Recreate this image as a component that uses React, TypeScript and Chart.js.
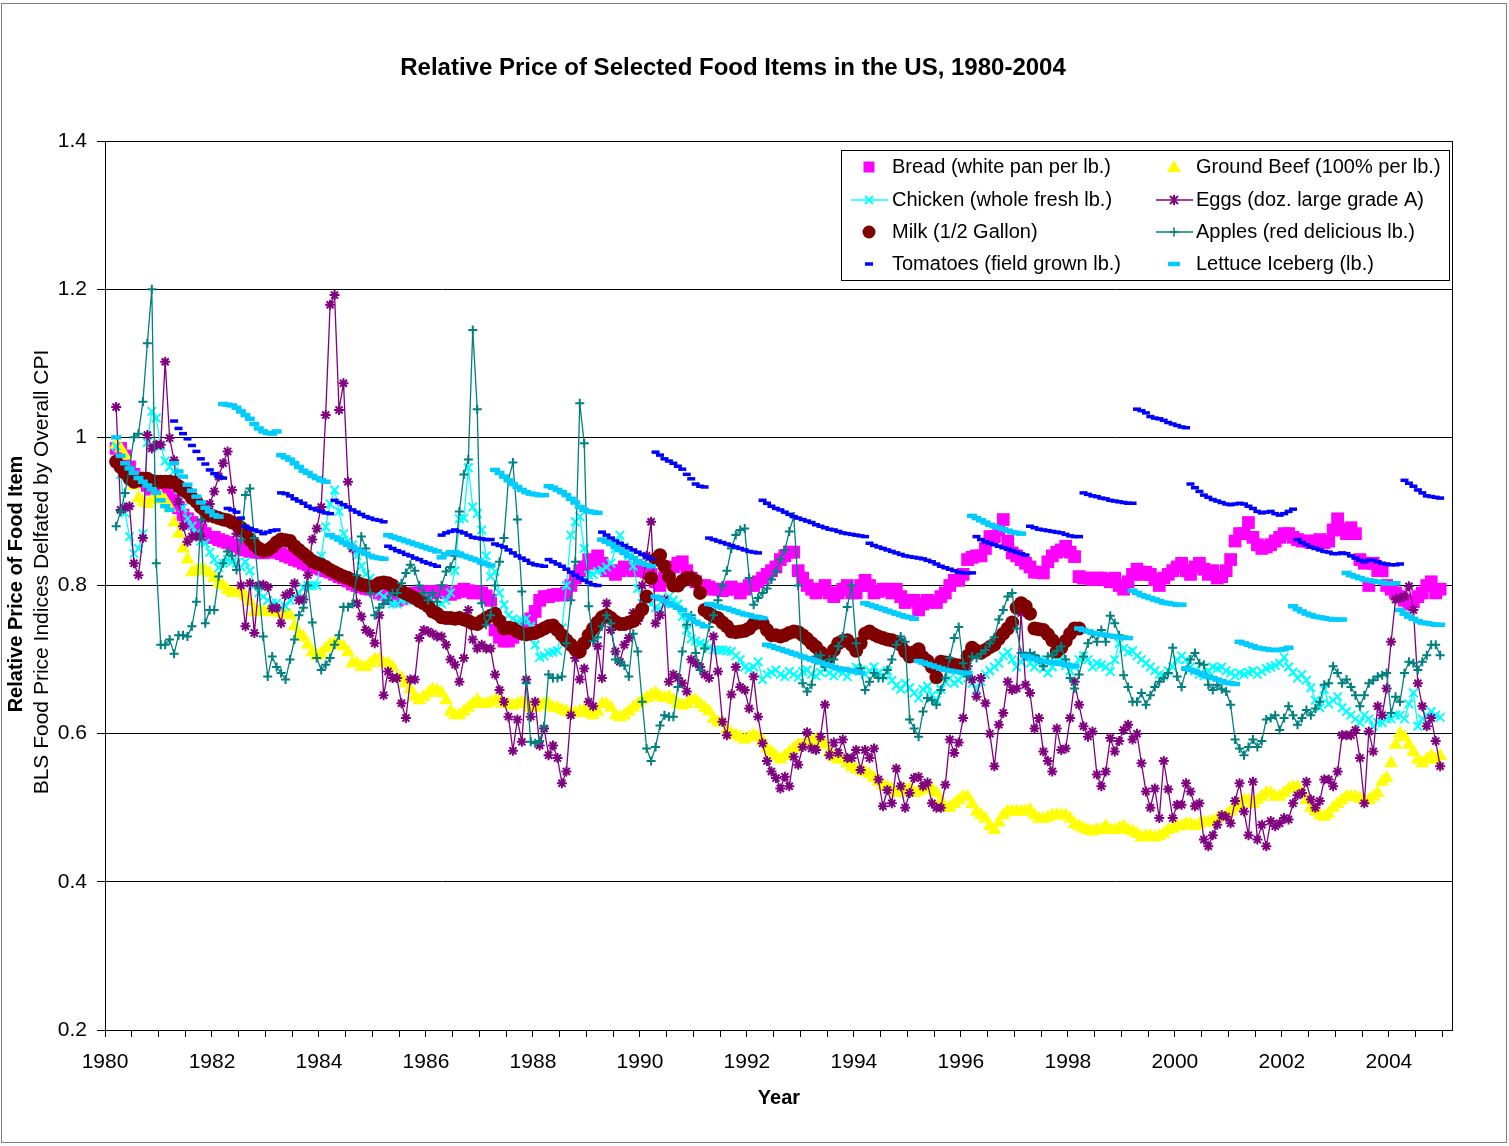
import React, { useEffect, useRef } from "react";
import { Chart, registerables } from "chart.js";

Chart.register(...registerables);

// ---- Data: monthly observations, the first one is March 1980 (plotted mid-month) ----
const FIRST_YEAR = 1980;
const FIRST_MONTH_INDEX = 2; // March
const TOMATOES_START = 13; // tomatoes start 13 months after the first observation

const breadValues = [
  0.985, 0.985, 0.975, 0.96, 0.95, 0.945, 0.94, 0.935, 0.93, 0.93,
  0.93, 0.925, 0.92, 0.915, 0.905, 0.895, 0.89, 0.885, 0.88, 0.875, 0.87, 0.865,
  0.865, 0.862, 0.86, 0.858, 0.855, 0.853, 0.85, 0.848, 0.846, 0.845, 0.845, 0.844,
  0.845, 0.846, 0.845, 0.843, 0.84, 0.838, 0.835, 0.833, 0.83, 0.828, 0.826, 0.824,
  0.822, 0.82, 0.818, 0.815, 0.812, 0.81, 0.806, 0.802, 0.8, 0.798, 0.796, 0.795,
  0.795, 0.79, 0.788, 0.785, 0.782, 0.78, 0.782, 0.785, 0.788, 0.79, 0.79, 0.792,
  0.792, 0.79, 0.792, 0.793, 0.79, 0.788, 0.79, 0.792, 0.795, 0.793, 0.79, 0.792,
  0.79, 0.786, 0.78, 0.74, 0.73, 0.725, 0.725, 0.73, 0.735, 0.74, 0.745, 0.755,
  0.765, 0.78, 0.785, 0.785, 0.787, 0.788, 0.787, 0.79, 0.8, 0.81, 0.82, 0.825,
  0.835, 0.83, 0.84, 0.83, 0.82, 0.82, 0.815, 0.82, 0.825, 0.822, 0.82, 0.82,
  0.82, 0.818, 0.815, 0.805, 0.8, 0.81, 0.815, 0.825, 0.83, 0.832, 0.82, 0.81,
  0.805, 0.8, 0.8, 0.798, 0.795, 0.795, 0.793, 0.795, 0.798, 0.795, 0.79, 0.795,
  0.8, 0.8, 0.805, 0.81, 0.815, 0.82, 0.825, 0.835, 0.84, 0.845, 0.845, 0.82,
  0.81, 0.8, 0.795, 0.79, 0.795, 0.8, 0.79, 0.785, 0.79, 0.795, 0.8, 0.79,
  0.79, 0.8, 0.807, 0.8, 0.79, 0.792, 0.795, 0.795, 0.79, 0.795, 0.785, 0.777,
  0.78, 0.78, 0.767, 0.775, 0.78, 0.778, 0.777, 0.785, 0.79, 0.8, 0.807, 0.807,
  0.815, 0.835, 0.838, 0.84, 0.84, 0.85, 0.866, 0.866, 0.875, 0.889, 0.86, 0.844,
  0.84, 0.835, 0.83, 0.825, 0.818, 0.818, 0.817, 0.832, 0.84, 0.845, 0.848, 0.853,
  0.845, 0.839, 0.812, 0.81, 0.81, 0.808, 0.81, 0.81, 0.808, 0.805, 0.81, 0.8,
  0.795, 0.805, 0.815, 0.822, 0.815, 0.818, 0.815, 0.808, 0.8, 0.81, 0.815, 0.82,
  0.825, 0.83, 0.82, 0.815, 0.825, 0.83, 0.822, 0.815, 0.82, 0.81, 0.812, 0.82,
  0.835, 0.86, 0.87, 0.87, 0.885, 0.865, 0.855, 0.85, 0.852, 0.855, 0.86, 0.865,
  0.87, 0.87, 0.865, 0.862, 0.86, 0.86, 0.858, 0.86, 0.862, 0.858, 0.86, 0.875,
  0.89, 0.875, 0.87, 0.878, 0.87, 0.835, 0.83, 0.8, 0.83, 0.82, 0.82, 0.8,
  0.795, 0.79, 0.785, 0.78, 0.775, 0.778, 0.785, 0.79, 0.8, 0.805, 0.79, 0.795,
];

const beefValues = [
  0.99, 0.985, 0.975, 0.955, 0.935, 0.918, 0.913, 0.91, 0.915, 0.918,
  0.92, 0.915, 0.905, 0.885, 0.87, 0.85, 0.835, 0.818, 0.82, 0.821,
  0.82, 0.817, 0.81, 0.803, 0.8, 0.794, 0.79, 0.79, 0.79, 0.785,
  0.778, 0.764, 0.765, 0.765, 0.765, 0.764, 0.765, 0.762, 0.765, 0.76,
  0.745, 0.735, 0.73, 0.72, 0.71, 0.705, 0.708, 0.715, 0.72, 0.722,
  0.72, 0.718, 0.71, 0.695, 0.695, 0.69, 0.69, 0.695, 0.7, 0.7,
  0.695, 0.695, 0.69, 0.675, 0.675, 0.668, 0.66, 0.65, 0.645, 0.65,
  0.655, 0.66, 0.658, 0.655, 0.645, 0.63, 0.625, 0.625, 0.63, 0.635,
  0.64, 0.645, 0.64, 0.64, 0.642, 0.645, 0.645, 0.64, 0.64, 0.638,
  0.64, 0.642, 0.64, 0.635, 0.635, 0.638, 0.64, 0.64, 0.635, 0.635,
  0.632, 0.63, 0.628, 0.628, 0.63, 0.632, 0.628, 0.625, 0.63, 0.64,
  0.64, 0.635, 0.625, 0.622, 0.625, 0.63, 0.635, 0.64, 0.645, 0.648,
  0.652, 0.655, 0.65, 0.648, 0.65, 0.645, 0.64, 0.638, 0.64, 0.645,
  0.645, 0.64, 0.635, 0.63, 0.62, 0.615, 0.615, 0.605, 0.6, 0.598,
  0.595, 0.592, 0.595, 0.598, 0.595, 0.59, 0.58, 0.575, 0.57, 0.565,
  0.57, 0.575, 0.58, 0.585, 0.585, 0.588, 0.59, 0.592, 0.59, 0.585,
  0.575, 0.568, 0.565, 0.565, 0.56, 0.555, 0.552, 0.55, 0.548, 0.545,
  0.54, 0.535, 0.53, 0.528, 0.525, 0.52, 0.522, 0.525, 0.525, 0.52,
  0.522, 0.525, 0.525, 0.525, 0.52, 0.51, 0.5, 0.5, 0.505, 0.51,
  0.515, 0.515, 0.505, 0.495, 0.49, 0.485, 0.475, 0.47, 0.48, 0.49,
  0.495, 0.495, 0.495, 0.495, 0.495, 0.497, 0.49, 0.485, 0.485, 0.487,
  0.49, 0.49, 0.49, 0.49, 0.485, 0.478, 0.475, 0.472, 0.47, 0.468,
  0.47, 0.47, 0.475, 0.47, 0.47, 0.472, 0.475, 0.47, 0.468, 0.465,
  0.46, 0.462, 0.462, 0.46, 0.462, 0.465, 0.47, 0.472, 0.475, 0.475,
  0.478, 0.478, 0.475, 0.478, 0.48, 0.48, 0.482, 0.485, 0.488, 0.49,
  0.495, 0.5, 0.505, 0.51, 0.51, 0.505, 0.51, 0.515, 0.52, 0.52,
  0.515, 0.515, 0.52, 0.525, 0.528, 0.528, 0.52, 0.51, 0.5, 0.495,
  0.49, 0.488, 0.492, 0.5, 0.505, 0.51, 0.515, 0.515, 0.515, 0.512,
  0.51, 0.51, 0.515, 0.52, 0.535, 0.54, 0.56, 0.585, 0.6, 0.595,
  0.585, 0.575, 0.565, 0.56, 0.565, 0.57, 0.565, 0.57,
];

const chickenValues = [
  0.988, 0.95, 0.898, 0.866, 0.843, 0.85, 0.87, 0.993, 1.035, 1.026,
  0.988, 0.968, 0.96, 0.954, 0.93, 0.905, 0.89, 0.88, 0.87, 0.86,
  0.857, 0.845, 0.835, 0.824, 0.83, 0.835, 0.832, 0.83, 0.825, 0.832,
  0.82, 0.8, 0.79, 0.785, 0.78, 0.776, 0.776, 0.77, 0.772, 0.78,
  0.785, 0.79, 0.797, 0.8, 0.8, 0.8, 0.84, 0.879, 0.91, 0.929,
  0.9, 0.87, 0.86, 0.855, 0.84, 0.826, 0.815, 0.81, 0.8, 0.79,
  0.785, 0.78, 0.775, 0.775, 0.78, 0.78, 0.785, 0.78, 0.785, 0.785,
  0.78, 0.775, 0.77, 0.775, 0.78, 0.79, 0.82, 0.89, 0.891, 0.959,
  0.906, 0.897, 0.875, 0.84, 0.812, 0.819, 0.79, 0.774, 0.76, 0.755,
  0.751, 0.753, 0.755, 0.745, 0.72, 0.703, 0.705, 0.709, 0.71, 0.712,
  0.743, 0.8, 0.868, 0.886, 0.893, 0.85, 0.814, 0.815, 0.819, 0.821,
  0.825, 0.83, 0.85, 0.868, 0.852, 0.84, 0.826, 0.796, 0.776, 0.78,
  0.775, 0.77, 0.768, 0.775, 0.785, 0.78, 0.775, 0.758, 0.74, 0.728,
  0.725, 0.722, 0.72, 0.716, 0.713, 0.713, 0.713, 0.712, 0.711, 0.705,
  0.7, 0.69, 0.687, 0.69, 0.697, 0.673, 0.68, 0.683, 0.686, 0.68,
  0.677, 0.684, 0.68, 0.676, 0.684, 0.686, 0.68, 0.678, 0.683, 0.688,
  0.682, 0.678, 0.685, 0.682, 0.677, 0.685, 0.69, 0.686, 0.68, 0.685,
  0.69, 0.682, 0.678, 0.685, 0.672, 0.665, 0.66, 0.668, 0.662, 0.655,
  0.648, 0.66, 0.664, 0.652, 0.645, 0.66, 0.67, 0.675, 0.668, 0.672,
  0.68, 0.675, 0.668, 0.66, 0.67, 0.68, 0.685, 0.69, 0.695, 0.705,
  0.71, 0.7, 0.69, 0.697, 0.705, 0.695, 0.69, 0.7, 0.688, 0.682,
  0.69, 0.698, 0.7, 0.692, 0.685, 0.69, 0.7, 0.705, 0.7, 0.69,
  0.695, 0.693, 0.69, 0.684, 0.7, 0.722, 0.715, 0.71, 0.712, 0.705,
  0.7, 0.695, 0.69, 0.685, 0.68, 0.678, 0.685, 0.69, 0.7, 0.705,
  0.7, 0.69, 0.685, 0.68, 0.678, 0.685, 0.69, 0.688, 0.69, 0.685,
  0.682, 0.678, 0.682, 0.68, 0.683, 0.685, 0.68, 0.684, 0.688, 0.69,
  0.692, 0.695, 0.703, 0.69, 0.683, 0.675, 0.68, 0.672, 0.662, 0.645,
  0.635, 0.66, 0.64, 0.645, 0.65, 0.635, 0.63, 0.625, 0.62, 0.615,
  0.625, 0.62, 0.61, 0.615, 0.615, 0.62, 0.62, 0.625, 0.625, 0.62,
  0.64, 0.655, 0.61, 0.62, 0.625, 0.63, 0.625, 0.622,
];

const eggsValues = [
  1.041, 0.902, 0.905, 0.907, 0.83, 0.814, 0.864, 1.003, 0.985, 0.99,
  0.99, 1.102, 0.999, 0.969, 0.913, 0.88, 0.859, 0.866, 0.866, 0.866,
  0.89, 0.91, 0.927, 0.947, 0.965, 0.981, 0.929, 0.87, 0.8, 0.745,
  0.803, 0.736, 0.8, 0.801, 0.798, 0.769, 0.77, 0.749, 0.787, 0.79,
  0.803, 0.78, 0.781, 0.814, 0.862, 0.877, 0.906, 1.03, 1.179, 1.192,
  1.037, 1.073, 0.94, 0.85, 0.776, 0.758, 0.74, 0.736, 0.722, 0.76,
  0.652, 0.684, 0.675, 0.675, 0.641, 0.621, 0.673, 0.673, 0.729, 0.74,
  0.738, 0.735, 0.731, 0.731, 0.72, 0.7, 0.693, 0.67, 0.702, 0.767,
  0.727, 0.715, 0.72, 0.715, 0.715, 0.68, 0.659, 0.643, 0.623, 0.577,
  0.619, 0.589, 0.673, 0.623, 0.643, 0.584, 0.607, 0.571, 0.584, 0.567,
  0.533, 0.549, 0.625, 0.702, 0.673, 0.688, 0.643, 0.637, 0.718, 0.675,
  0.776, 0.74, 0.711, 0.697, 0.72, 0.729, 0.763, 0.752, 0.8, 0.84,
  0.886, 0.749, 0.76, 0.781, 0.67, 0.68, 0.675, 0.668, 0.657, 0.7,
  0.695, 0.69, 0.68, 0.675, 0.731, 0.684, 0.616, 0.598, 0.653, 0.69,
  0.663, 0.659, 0.634, 0.677, 0.623, 0.587, 0.563, 0.549, 0.54, 0.526,
  0.542, 0.529, 0.569, 0.558, 0.582, 0.602, 0.58, 0.578, 0.596, 0.639,
  0.571, 0.588, 0.574, 0.592, 0.567, 0.567, 0.578, 0.551, 0.578, 0.567,
  0.58, 0.538, 0.502, 0.524, 0.506, 0.553, 0.529, 0.5, 0.52, 0.54,
  0.542, 0.529, 0.534, 0.506, 0.5, 0.5, 0.531, 0.592, 0.574, 0.588,
  0.621, 0.691, 0.673, 0.65, 0.675, 0.641, 0.6, 0.556, 0.612, 0.628,
  0.67, 0.659, 0.661, 0.763, 0.666, 0.655, 0.607, 0.621, 0.576, 0.563,
  0.549, 0.607, 0.578, 0.58, 0.621, 0.67, 0.639, 0.61, 0.596, 0.603,
  0.545, 0.529, 0.549, 0.594, 0.576, 0.59, 0.605, 0.612, 0.592, 0.6,
  0.56, 0.522, 0.5, 0.526, 0.486, 0.563, 0.525, 0.486, 0.504, 0.504,
  0.533, 0.522, 0.502, 0.506, 0.457, 0.448, 0.463, 0.477, 0.49, 0.488,
  0.479, 0.509, 0.533, 0.495, 0.463, 0.535, 0.457, 0.477, 0.448, 0.482,
  0.475, 0.479, 0.486, 0.484, 0.506, 0.517, 0.52, 0.535, 0.511, 0.5,
  0.509, 0.538, 0.538, 0.529, 0.549, 0.598, 0.598, 0.598, 0.605, 0.567,
  0.506, 0.603, 0.576, 0.637, 0.625, 0.661, 0.724, 0.781, 0.783, 0.785,
  0.799, 0.767, 0.668, 0.637, 0.61, 0.621, 0.59, 0.556,
];

const milkValues = [
  0.967, 0.96, 0.952, 0.944, 0.94, 0.942, 0.944, 0.944, 0.941, 0.94,
  0.94, 0.94, 0.94, 0.939, 0.934, 0.929, 0.925, 0.918, 0.913, 0.906,
  0.9, 0.896, 0.893, 0.891, 0.889, 0.888, 0.885, 0.883, 0.878, 0.873,
  0.862, 0.855, 0.85, 0.847, 0.848, 0.852, 0.858, 0.862, 0.861, 0.86,
  0.853, 0.848, 0.843, 0.838, 0.833, 0.83, 0.828, 0.825, 0.821, 0.818,
  0.815, 0.812, 0.81, 0.807, 0.804, 0.801, 0.8, 0.798, 0.799, 0.803,
  0.804, 0.803, 0.8, 0.795, 0.792, 0.789, 0.786, 0.783, 0.779, 0.776,
  0.772, 0.765, 0.762, 0.757, 0.756, 0.756, 0.755, 0.756, 0.754, 0.752,
  0.749, 0.748, 0.752, 0.756, 0.759, 0.762, 0.752, 0.742, 0.743, 0.742,
  0.738, 0.735, 0.734, 0.735, 0.736, 0.739, 0.742, 0.745, 0.746, 0.74,
  0.733, 0.726, 0.72, 0.714, 0.711, 0.722, 0.733, 0.742, 0.75, 0.757,
  0.76, 0.756, 0.751, 0.748, 0.748, 0.75, 0.752, 0.76, 0.768, 0.785,
  0.81, 0.835, 0.841, 0.826, 0.812, 0.8, 0.8, 0.806, 0.81, 0.81,
  0.806, 0.79, 0.767, 0.762, 0.758, 0.756, 0.75, 0.745, 0.738, 0.737,
  0.738, 0.739, 0.742, 0.748, 0.751, 0.749, 0.74, 0.733, 0.733, 0.731,
  0.733, 0.736, 0.738, 0.737, 0.733, 0.728, 0.722, 0.717, 0.71, 0.706,
  0.704, 0.713, 0.722, 0.725, 0.726, 0.72, 0.712, 0.722, 0.735, 0.738,
  0.734, 0.731, 0.729, 0.727, 0.726, 0.724, 0.72, 0.711, 0.704, 0.71,
  0.714, 0.703, 0.698, 0.69, 0.676, 0.697, 0.696, 0.695, 0.693, 0.692,
  0.692, 0.705, 0.716, 0.712, 0.709, 0.713, 0.717, 0.72, 0.728, 0.735,
  0.742, 0.75, 0.77, 0.776, 0.772, 0.762, 0.742, 0.741, 0.74, 0.734,
  0.726, 0.711, 0.716, 0.725, 0.735, 0.742, 0.742,
];

const applesValues = [
  0.88, 0.9, 0.925, 0.96, 1.0, 1.005, 1.048, 1.127, 1.2, 0.83,
  0.72, 0.72, 0.727, 0.708, 0.733, 0.733, 0.731, 0.745, 0.778, 0.889,
  0.749, 0.767, 0.767, 0.812, 0.83, 0.846, 0.84, 0.821, 0.862, 0.922,
  0.931, 0.864, 0.797, 0.731, 0.677, 0.704, 0.69, 0.682, 0.673, 0.7,
  0.727, 0.76, 0.77, 0.8, 0.75, 0.702, 0.686, 0.693, 0.702, 0.72,
  0.733, 0.771, 0.771, 0.775, 0.814, 0.866, 0.85, 0.79, 0.76, 0.77,
  0.775, 0.78, 0.79, 0.79, 0.803, 0.817, 0.828, 0.82, 0.8, 0.79,
  0.78, 0.79, 0.778, 0.8, 0.819, 0.825, 0.84, 0.9, 0.95, 0.97,
  1.145, 1.038, 0.776, 0.747, 0.76, 0.8, 0.832, 0.864, 0.943, 0.966,
  0.889, 0.792, 0.668, 0.589, 0.587, 0.59, 0.61, 0.68, 0.675, 0.675,
  0.677, 0.722, 0.78, 0.832, 1.046, 0.992, 0.772, 0.725, 0.73, 0.745,
  0.76, 0.749, 0.7, 0.697, 0.692, 0.677, 0.735, 0.711, 0.643, 0.58,
  0.563, 0.582, 0.611, 0.625, 0.623, 0.623, 0.663, 0.711, 0.747, 0.76,
  0.709, 0.686, 0.715, 0.744, 0.76, 0.78, 0.8, 0.82, 0.85, 0.868,
  0.875, 0.877, 0.81, 0.774, 0.783, 0.79, 0.796, 0.808, 0.819, 0.835,
  0.848, 0.873, 0.893, 0.8, 0.668, 0.657, 0.666, 0.704, 0.706, 0.69,
  0.7, 0.7, 0.718, 0.731, 0.771, 0.8, 0.722, 0.688, 0.659, 0.67,
  0.682, 0.675, 0.675, 0.686, 0.7, 0.72, 0.731, 0.724, 0.619, 0.607,
  0.596, 0.63, 0.648, 0.645, 0.639, 0.659, 0.675, 0.702, 0.729, 0.744,
  0.695, 0.677, 0.704, 0.702, 0.708, 0.713, 0.722, 0.73, 0.754, 0.767,
  0.785, 0.79, 0.742, 0.709, 0.705, 0.709, 0.706, 0.7, 0.691, 0.704,
  0.706, 0.712, 0.718, 0.7, 0.675, 0.661, 0.68, 0.704, 0.722, 0.735,
  0.724, 0.74, 0.724, 0.759, 0.749, 0.733, 0.679, 0.663, 0.643, 0.643,
  0.655, 0.639, 0.652, 0.663, 0.67, 0.675, 0.682, 0.716, 0.677, 0.663,
  0.686, 0.7, 0.709, 0.695, 0.693, 0.666, 0.659, 0.666, 0.66, 0.657,
  0.639, 0.592, 0.58, 0.571, 0.582, 0.592, 0.582, 0.59, 0.619, 0.621,
  0.625, 0.605, 0.621, 0.637, 0.625, 0.612, 0.621, 0.632, 0.625, 0.634,
  0.643, 0.666, 0.668, 0.691, 0.682, 0.668, 0.673, 0.663, 0.652, 0.637,
  0.652, 0.668, 0.672, 0.677, 0.679, 0.682, 0.628, 0.65, 0.643, 0.682,
  0.697, 0.695, 0.686, 0.697, 0.706, 0.72, 0.72, 0.706,
];

const tomatoesValues = [
  1.022, 1.012, 1.005, 0.998, 0.989, 0.981, 0.971, 0.964, 0.956, 0.951, 0.947, 0.945,
  0.904, 0.902, 0.899, 0.891, 0.88, 0.877, 0.875, 0.873, 0.87, 0.872, 0.874, 0.875,
  0.925, 0.924, 0.921, 0.917, 0.914, 0.911, 0.907, 0.904, 0.902, 0.9, 0.898, 0.897,
  0.915, 0.912, 0.909, 0.906, 0.902, 0.899, 0.896, 0.893, 0.891, 0.889, 0.888, 0.886,
  0.853, 0.85, 0.847, 0.845, 0.842, 0.84, 0.837, 0.835, 0.832, 0.83, 0.828, 0.826,
  0.868, 0.871, 0.873, 0.875, 0.873, 0.871, 0.868, 0.865, 0.864, 0.863, 0.862, 0.862,
  0.856, 0.854, 0.852, 0.848, 0.844, 0.84, 0.837, 0.834, 0.83, 0.828, 0.827, 0.826,
  0.835, 0.832, 0.829, 0.826, 0.822, 0.818, 0.814, 0.81, 0.807, 0.804, 0.801, 0.8,
  0.872, 0.868, 0.864, 0.86, 0.857, 0.854, 0.851, 0.848, 0.845, 0.842, 0.839, 0.836,
  0.98, 0.976, 0.971, 0.968, 0.965, 0.961, 0.957, 0.95, 0.944, 0.937, 0.934, 0.933,
  0.864, 0.862, 0.86, 0.858, 0.856, 0.854, 0.852, 0.85, 0.848, 0.846, 0.845, 0.844,
  0.915, 0.911, 0.907, 0.904, 0.902, 0.899, 0.896, 0.893, 0.891, 0.889, 0.887, 0.885,
  0.882, 0.88, 0.878, 0.876, 0.875, 0.873, 0.871, 0.87, 0.869, 0.868, 0.867, 0.866,
  0.857, 0.854, 0.852, 0.85, 0.848, 0.846, 0.844, 0.842, 0.84, 0.839, 0.838, 0.837,
  0.836, 0.834, 0.832, 0.829, 0.826, 0.824, 0.822, 0.82, 0.818, 0.817, 0.817, 0.817,
  0.866, 0.862, 0.859, 0.857, 0.855, 0.853, 0.851, 0.849, 0.847, 0.845, 0.843, 0.841,
  0.88, 0.878, 0.876, 0.875, 0.874, 0.873, 0.872, 0.871, 0.869, 0.867, 0.866, 0.866,
  0.925, 0.923, 0.921, 0.92, 0.918, 0.917, 0.915, 0.914, 0.913, 0.912, 0.911, 0.911,
  1.038, 1.036, 1.033, 1.028, 1.026, 1.025, 1.023, 1.02, 1.018, 1.016, 1.014, 1.013,
  0.937, 0.932, 0.927, 0.922, 0.919, 0.916, 0.914, 0.912, 0.91, 0.909, 0.91, 0.911,
  0.91, 0.907, 0.904, 0.9, 0.898, 0.899, 0.9, 0.897, 0.895, 0.897, 0.9, 0.903,
  0.862, 0.858, 0.855, 0.852, 0.85, 0.848, 0.846, 0.845, 0.843, 0.843, 0.844, 0.843,
  0.84, 0.837, 0.834, 0.832, 0.834, 0.834, 0.832, 0.83, 0.829, 0.828, 0.828, 0.829,
  0.942, 0.938, 0.934, 0.929, 0.925, 0.921, 0.92, 0.919, 0.918,
];

const lettuceValues = [
  1.0, 0.975, 0.965, 0.958, 0.952, 0.945, 0.94, 0.935, 0.93, 0.925, 0.915, 0.907, 0.902,
  0.965, 0.954, 0.947, 0.936, 0.928, 0.92, 0.912, 0.905, 0.9, 0.895, 0.893,
  1.045, 1.044, 1.043, 1.04, 1.035, 1.03, 1.025, 1.018, 1.012, 1.008, 1.006, 1.005, 1.008,
  0.976, 0.973, 0.97, 0.965, 0.96, 0.955, 0.952, 0.948, 0.945, 0.942, 0.94,
  0.868, 0.865, 0.862, 0.858, 0.855, 0.852, 0.849, 0.846, 0.843, 0.84, 0.838, 0.837, 0.836,
  0.868, 0.866, 0.864, 0.862, 0.86, 0.858, 0.856, 0.854, 0.852, 0.85, 0.848, 0.846,
  0.838, 0.842, 0.845, 0.845, 0.843, 0.84, 0.838, 0.836, 0.834, 0.831, 0.829, 0.827,
  0.956, 0.952, 0.947, 0.942, 0.937, 0.933, 0.929, 0.926, 0.924, 0.923, 0.922, 0.922,
  0.934, 0.932, 0.929, 0.926, 0.922, 0.917, 0.912, 0.906, 0.902, 0.9, 0.899, 0.898,
  0.862, 0.859, 0.856, 0.852, 0.848, 0.844, 0.84, 0.837, 0.833, 0.83, 0.828, 0.826,
  0.785, 0.782, 0.779, 0.776, 0.773, 0.77, 0.767, 0.76, 0.755, 0.751, 0.748, 0.745,
  0.775, 0.774, 0.772, 0.77, 0.769, 0.767, 0.765, 0.763, 0.761, 0.76, 0.758, 0.757, 0.756,
  0.72, 0.718, 0.716, 0.714, 0.712, 0.71, 0.708, 0.706, 0.704, 0.702, 0.7,
  0.698, 0.696, 0.694, 0.692, 0.69, 0.688, 0.687, 0.686, 0.685, 0.684, 0.682,
  0.776, 0.774, 0.772, 0.77, 0.768, 0.766, 0.764, 0.762, 0.76, 0.758, 0.757, 0.755,
  0.698, 0.696, 0.694, 0.692, 0.69, 0.688, 0.686, 0.685, 0.684, 0.683, 0.682, 0.682,
  0.894, 0.891, 0.888, 0.885, 0.882, 0.88, 0.878, 0.876, 0.874, 0.872, 0.871, 0.87,
  0.705, 0.703, 0.701, 0.699, 0.698, 0.697, 0.696, 0.695, 0.694, 0.693, 0.692, 0.691,
  0.742, 0.74, 0.738, 0.736, 0.735, 0.734, 0.733, 0.732, 0.731, 0.73, 0.73, 0.729,
  0.793, 0.79, 0.787, 0.785, 0.783, 0.781, 0.779, 0.777, 0.776, 0.775, 0.774, 0.774,
  0.688, 0.686, 0.684, 0.682, 0.679, 0.677, 0.675, 0.673, 0.671, 0.669, 0.668, 0.667,
  0.724, 0.722, 0.72, 0.718, 0.716, 0.715, 0.714, 0.713, 0.713, 0.713, 0.714, 0.716,
  0.772, 0.768, 0.765, 0.762, 0.76, 0.758, 0.757, 0.756, 0.755, 0.754, 0.754, 0.754,
  0.817, 0.814, 0.812, 0.81, 0.808, 0.807, 0.806, 0.805, 0.804, 0.803, 0.803, 0.803,
  0.767, 0.762, 0.758, 0.755, 0.752, 0.75, 0.749, 0.748, 0.747, 0.747,
];

const xLabelYears = [1980, 1982, 1984, 1986, 1988, 1990, 1992, 1994, 1996, 1998, 2000, 2002, 2004];
const yTickValues = [0.2, 0.4, 0.6, 0.8, 1.0, 1.2, 1.4];
const yTickLabels = ["0.2", "0.4", "0.6", "0.8", "1", "1.2", "1.4"];

const TITLE = "Relative Price of Selected Food Items in the US, 1980-2004";
const Y_TITLE_1 = "Relative Price of Food Item";
const Y_TITLE_2 = "BLS Food Price Indices Delfated by Overall CPI";
const X_TITLE = "Year";

const FONT = '"Liberation Sans", Arial, Helvetica, sans-serif';

type Marker = "square" | "triangle" | "x" | "star" | "circle" | "plus" | "dash" | "dashWide";

const legendEntries: { label: string; color: string; marker: Marker; line: boolean; col: number; row: number }[] = [
  { label: "Bread (white pan per lb.)", color: "#FF00FF", marker: "square", line: false, col: 0, row: 0 },
  { label: "Ground Beef (100% per lb.)", color: "#FFFF00", marker: "triangle", line: false, col: 1, row: 0 },
  { label: "Chicken (whole fresh lb.)", color: "#00FFFF", marker: "x", line: true, col: 0, row: 1 },
  { label: "Eggs (doz. large grade A)", color: "#800080", marker: "star", line: true, col: 1, row: 1 },
  { label: "Milk (1/2 Gallon)", color: "#800000", marker: "circle", line: false, col: 0, row: 2 },
  { label: "Apples (red delicious lb.)", color: "#008080", marker: "plus", line: true, col: 1, row: 2 },
  { label: "Tomatoes (field grown lb.)", color: "#0000FF", marker: "dash", line: false, col: 0, row: 3 },
  { label: "Lettuce Iceberg (lb.)", color: "#00CCFF", marker: "dashWide", line: false, col: 1, row: 3 },
];

const toPoints = (values: number[], start = 0) =>
  values.map((v, i) => ({ x: FIRST_YEAR + (FIRST_MONTH_INDEX + start + i + 0.5) / 12, y: v }));

function drawMarker(ctx: CanvasRenderingContext2D, m: Marker, x: number, y: number, color: string) {
  ctx.save();
  ctx.fillStyle = color;
  ctx.strokeStyle = color;
  ctx.lineWidth = 2;
  ctx.beginPath();
  switch (m) {
    case "square":
      ctx.fillRect(x - 5.5, y - 5.5, 11, 11);
      break;
    case "triangle":
      ctx.moveTo(x, y - 7);
      ctx.lineTo(x + 7, y + 5);
      ctx.lineTo(x - 7, y + 5);
      ctx.closePath();
      ctx.fill();
      break;
    case "circle":
      ctx.arc(x, y, 6.5, 0, Math.PI * 2);
      ctx.fill();
      break;
    case "x":
      ctx.moveTo(x - 4, y - 4); ctx.lineTo(x + 4, y + 4);
      ctx.moveTo(x - 4, y + 4); ctx.lineTo(x + 4, y - 4);
      ctx.stroke();
      break;
    case "star":
      ctx.moveTo(x - 4, y - 4); ctx.lineTo(x + 4, y + 4);
      ctx.moveTo(x - 4, y + 4); ctx.lineTo(x + 4, y - 4);
      ctx.moveTo(x, y - 5); ctx.lineTo(x, y + 5);
      ctx.stroke();
      break;
    case "plus":
      ctx.lineWidth = 1.5;
      ctx.moveTo(x - 4.5, y); ctx.lineTo(x + 4.5, y);
      ctx.moveTo(x, y - 4.5); ctx.lineTo(x, y + 4.5);
      ctx.stroke();
      break;
    case "dash":
      ctx.lineWidth = 3.5;
      ctx.moveTo(x - 4, y); ctx.lineTo(x + 4, y);
      ctx.stroke();
      break;
    case "dashWide":
      ctx.lineWidth = 4.5;
      ctx.moveTo(x - 6, y); ctx.lineTo(x + 6, y);
      ctx.stroke();
      break;
  }
  ctx.restore();
}

const decorPlugin = {
  id: "decor",
  afterDraw(chart: any) {
    const ctx: CanvasRenderingContext2D = chart.ctx;
    const a = chart.chartArea;
    ctx.save();
    // outer frame
    ctx.strokeStyle = "#7f7f7f";
    ctx.lineWidth = 1;
    ctx.strokeRect(1.5, 3.5, 1505, 1139);
    // plot frame
    ctx.strokeStyle = "#000";
    ctx.strokeRect(Math.round(a.left) + 0.5, Math.round(a.top) + 0.5, Math.round(a.right - a.left), Math.round(a.bottom - a.top));
    // title
    ctx.fillStyle = "#000";
    ctx.textAlign = "center";
    ctx.textBaseline = "middle";
    ctx.font = `bold 24px ${FONT}`;
    ctx.fillText(TITLE, 733, 68);
    // x title
    ctx.font = `bold 20px ${FONT}`;
    ctx.fillText(X_TITLE, 779, 1098);
    // y titles
    ctx.save();
    ctx.translate(16, 584);
    ctx.rotate(-Math.PI / 2);
    ctx.font = `bold 20px ${FONT}`;
    ctx.fillText(Y_TITLE_1, 0, 0);
    ctx.restore();
    ctx.save();
    ctx.translate(42, 572);
    ctx.rotate(-Math.PI / 2);
    ctx.font = `21px ${FONT}`;
    ctx.fillText(Y_TITLE_2, 0, 0);
    ctx.restore();
    // legend box
    ctx.fillStyle = "#fff";
    ctx.fillRect(841.5, 150.5, 608, 130);
    ctx.strokeStyle = "#000";
    ctx.strokeRect(841.5, 150.5, 608, 130);
    const rowY = [167, 200, 232, 264];
    const markerX = [869, 1174];
    const textX = [892, 1196];
    ctx.font = `20px ${FONT}`;
    ctx.textAlign = "left";
    ctx.textBaseline = "middle";
    for (const e of legendEntries) {
      const y = rowY[e.row];
      const mx = markerX[e.col];
      if (e.line) {
        ctx.save();
        ctx.strokeStyle = e.color;
        ctx.lineWidth = 1.5;
        ctx.beginPath();
        ctx.moveTo(mx - 18, y);
        ctx.lineTo(mx + 19, y);
        ctx.stroke();
        ctx.restore();
      }
      drawMarker(ctx, e.marker, mx, y, e.color);
      ctx.fillStyle = "#000";
      ctx.fillText(e.label, textX[e.col], y);
    }
    ctx.restore();
  },
};

export default function App() {
  const ref = useRef<HTMLCanvasElement | null>(null);
  useEffect(() => {
    document.body.style.margin = "0";
    const canvas = ref.current;
    if (!canvas) return;
    Chart.defaults.font.family = FONT;
    const xTicks: number[] = [];
    for (let v = xLabelYears[0]; v <= 2005; v += 0.5) xTicks.push(v);

    const lineDs = (label: string, values: number[], color: string, style: string, radius: number, order: number) => ({
      label,
      data: toPoints(values),
      borderColor: color,
      backgroundColor: color,
      borderWidth: 1.3,
      pointStyle: style,
      pointRadius: radius,
      pointBorderColor: color,
      pointBackgroundColor: color,
      pointBorderWidth: 2,
      showLine: true,
      tension: 0,
      order,
    });
    const markDs = (label: string, data: any[], color: string, style: string, radius: number, bw: number, order: number) => ({
      label,
      data,
      borderColor: color,
      backgroundColor: color,
      pointStyle: style,
      pointRadius: radius,
      pointBorderColor: color,
      pointBackgroundColor: color,
      pointBorderWidth: bw,
      showLine: false,
      order,
    });

    const chart = new Chart(canvas, {
      type: "line",
      data: {
        datasets: [
          markDs("Bread (white pan per lb.)", toPoints(breadValues), "#FF00FF", "rect", 9, 0, 8),
          markDs("Ground Beef (100% per lb.)", toPoints(beefValues), "#FFFF00", "triangle", 8, 0, 7),
          lineDs("Chicken (whole fresh lb.)", chickenValues, "#00FFFF", "crossRot", 6, 6),
          lineDs("Eggs (doz. large grade A)", eggsValues, "#800080", "star", 5, 5),
          markDs("Milk (1/2 Gallon)", toPoints(milkValues), "#800000", "circle", 7, 0, 4),
          lineDs("Apples (red delicious lb.)", applesValues, "#008080", "cross", 4.5, 3),
          markDs("Tomatoes (field grown lb.)", toPoints(tomatoesValues, TOMATOES_START), "#0000FF", "line", 4, 3.5, 2),
          markDs("Lettuce Iceberg (lb.)", toPoints(lettuceValues), "#00CCFF", "line", 5, 4.5, 1),
        ] as any,
      },
      options: {
        responsive: false,
        maintainAspectRatio: false,
        devicePixelRatio: 1,
        animation: false,
        events: [],
        layout: { padding: { left: 0, top: 141, right: 57, bottom: 0 } },
        plugins: {
          legend: { display: false },
          title: { display: false },
          tooltip: { enabled: false },
        },
        scales: {
          x: {
            type: "linear",
            min: 1980,
            max: 2005.18,
            afterBuildTicks: (s: any) => {
              s.ticks = xTicks.map((v) => ({ value: v }));
            },
            afterFit: (s: any) => {
              s.height = 116;
            },
            ticks: {
              autoSkip: false,
              maxRotation: 0,
              minRotation: 0,
              color: "#000",
              padding: 13,
              font: { size: 21, family: FONT },
              callback: (v: any) => (xLabelYears.includes(Number(v)) ? String(v) : ""),
            },
            grid: { drawOnChartArea: false, drawTicks: true, tickLength: 7, color: "#000", lineWidth: 1 },
            border: { display: true, color: "#000", width: 1 },
          },
          y: {
            type: "linear",
            min: 0.2,
            max: 1.4,
            afterBuildTicks: (s: any) => {
              s.ticks = yTickValues.map((v) => ({ value: v }));
            },
            afterFit: (s: any) => {
              s.width = 105;
            },
            ticks: {
              color: "#000",
              padding: 10,
              font: { size: 21, family: FONT },
              callback: (_v: any, i: number) => yTickLabels[i],
            },
            grid: { drawTicks: true, tickLength: 8, color: "#000", lineWidth: 1 },
            border: { display: true, color: "#000", width: 1 },
          },
        },
      } as any,
      plugins: [decorPlugin],
    });
    return () => chart.destroy();
  }, []);

  return (
    <div style={{ width: 1509, height: 1146, background: "#fff", overflow: "hidden" }}>
      <canvas ref={ref} width={1509} height={1146} style={{ display: "block", width: 1509, height: 1146 }} />
    </div>
  );
}
